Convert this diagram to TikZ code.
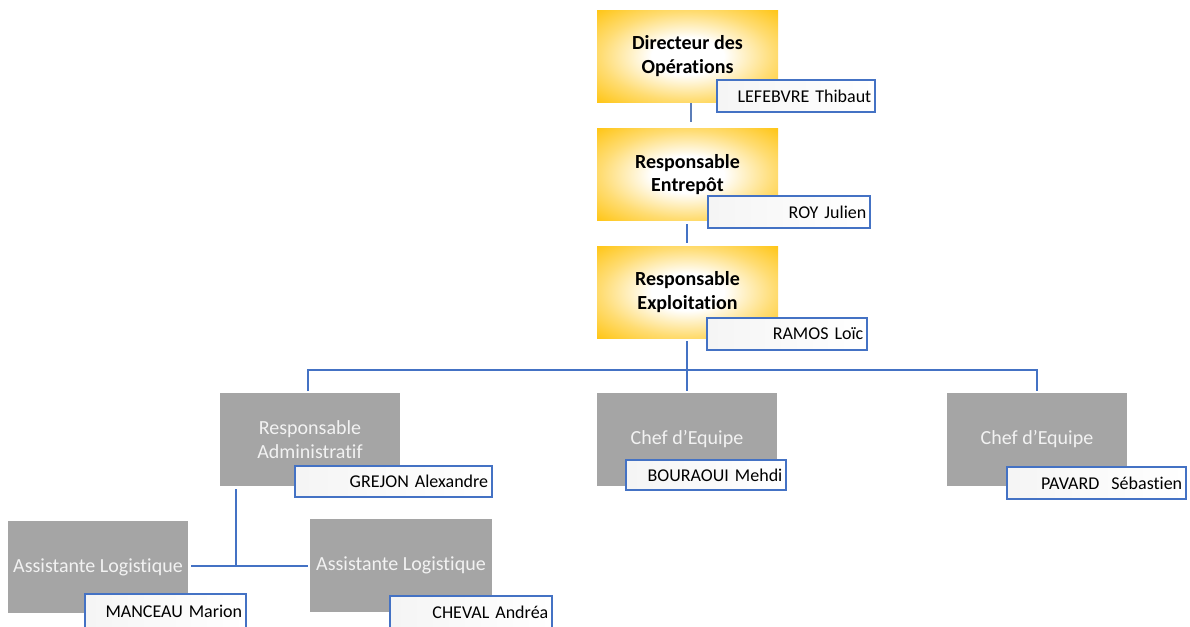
\documentclass[tikz,border=0pt]{standalone}
\usepackage{fontspec}
\setmainfont{Carlito}[Ligatures=NoCommon]
\newfontfamily\namefont{Carlito}[Ligatures=NoCommon, WordSpace={0.75,0,0}]
\definecolor{gold}{HTML}{FFC000}
\definecolor{boxgray}{HTML}{A5A5A5}
\definecolor{lighttext}{HTML}{F2F2F2}
\definecolor{blueline}{HTML}{4472C4}
\definecolor{thinblue}{HTML}{5B7DB8}
\colorlet{paleg}{gold!55!white}
\pgfdeclareradialshading{goldglow}{\pgfpoint{0bp}{0bp}}{color(0bp)=(white); color(10bp)=(white); color(24bp)=(paleg); color(38bp)=(gold); color(50bp)=(gold)}
\tikzset{
  ybox/.style={shading=goldglow, minimum width=135.75pt, minimum height=69pt, inner sep=0pt, align=center,
    font=\fontsize{15pt}{17.5pt}\selectfont\bfseries, text=black},
  gbox/.style={fill=boxgray, minimum width=135.5pt, minimum height=69.5pt, inner sep=0pt, align=center,
    font=\fontsize{15pt}{17.5pt}\selectfont, text=lighttext},
  namebox/.style={draw=blueline, line width=1.5pt, left color=black!4, right color=white,
    minimum height=24pt, inner xsep=3pt, inner ysep=0pt, align=right,
    font=\namefont\fontsize{13.5pt}{16pt}\selectfont, text=black},
  conn/.style={draw=blueline, line width=1.5pt},
  thinconn/.style={draw=thinblue, line width=0.9pt}
}
\begin{document}
\begin{tikzpicture}[x=0.75pt,y=-0.75pt]
\useasboundingbox (0,0) rectangle (1190,626);
% connectors
\coordinate (a1) at (691,103); \coordinate (a2) at (691,122);
\draw[thinconn] (a1) -- (a2);
\coordinate (b1) at (687,224); \coordinate (b2) at (687,243);
\draw[conn] (b1) -- (b2);
\coordinate (c0) at (687,341); \coordinate (cm) at (687,391);
\coordinate (cl) at (308,391); \coordinate (cr) at (1037,391);
\draw[conn] (cl) -- (cl |- 0,370) -- (cr |- 0,370) -- (cr);
\draw[conn] (c0) -- (cm);
\coordinate (d0) at (236,489); \coordinate (dl) at (191,566); \coordinate (dr) at (308,566);
\draw[conn] (d0) -- (d0 |- dl);
\draw[conn] (dl) -- (dr);
% top boxes
\node[ybox] (y1) at (687.5,56) {Directeur des\\Opérations};
\node[ybox] (y2) at (687.5,174.5) {Responsable\\Entrepôt};
\node[ybox] (y3) at (687.5,292) {Responsable\\Exploitation};
\node[namebox, text width=113pt] (n1) at (796,96) {LEFEBVRE Thibaut};
\node[namebox, text width=116pt] (n2) at (789,212) {ROY Julien};
\node[namebox, text width=114.5pt] (n3) at (787,334) {RAMOS Loïc};
% gray boxes
\node[gbox] (g1) at (310,439.5) {Responsable\\Administratif};
\node[gbox] (g2) at (687,439.5) {Chef d’Equipe};
\node[gbox] (g3) at (1037,439.5) {Chef d’Equipe};
\node[namebox, text width=142pt, minimum height=23.25pt] (m1) at (393.5,481.5) {GREJON Alexandre};
\node[namebox, text width=114.5pt, minimum height=22.5pt] (m2) at (706,475) {BOURAOUI Mehdi};
\node[namebox, text width=128.5pt] (m3) at (1096.5,483) {PAVARD\ \ Sébastien};
% assistants
\node[gbox] (a1b) at (98,567) {Assistante Logistique};
\node[gbox, minimum width=136.5pt] (a2b) at (401,565.5) {Assistante Logistique};
\node[namebox, text width=115pt, minimum height=25.5pt] (p1) at (165.5,611) {MANCEAU Marion};
\node[namebox, text width=116pt, minimum height=24pt] (p2) at (471,612) {CHEVAL Andréa};
\end{tikzpicture}
\end{document}
